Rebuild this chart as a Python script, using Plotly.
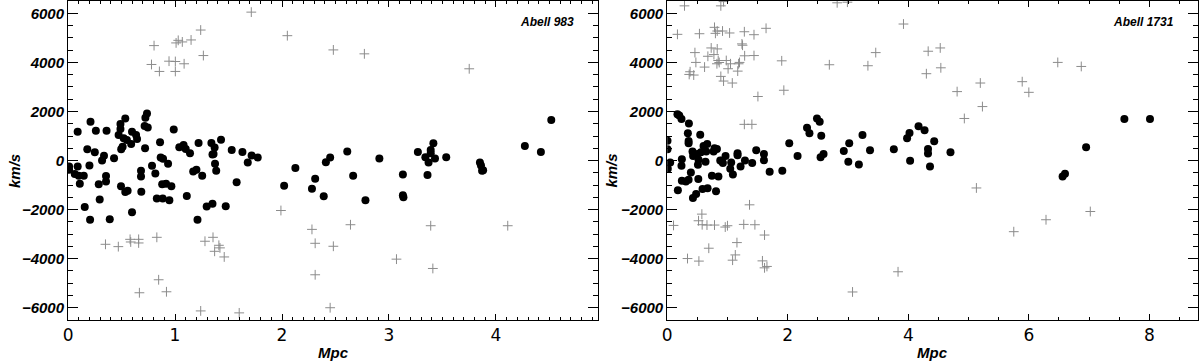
import plotly.graph_objects as go
from plotly.subplots import make_subplots

# Abell 983 - members (filled) and interlopers (crosses)
a983_mem_x = [0.01, 0.01, 0.09, 0.21, 0.26, 0.36, 0.18, 0.25, 0.09, 0.20, 0.063, 0.10, 0.147, 0.11,
              0.156, 0.206, 0.39, 0.296, 0.287, 0.355, 0.355, 0.318, 0.336, 0.43, 0.49, 0.49, 0.535,
              0.473, 0.52, 0.55, 0.598, 0.636, 0.645, 0.59, 0.51, 0.497, 0.723, 0.738, 0.716, 0.745,
              0.72, 0.988, 0.86, 0.866, 0.888, 0.935, 0.785, 0.816, 0.682, 0.682, 0.685, 0.495, 0.535,
              0.557, 0.598, 0.88, 0.916, 0.966, 0.83, 0.885, 0.947, 1.11, 1.04, 1.08, 1.1, 1.14, 1.22,
              1.17, 1.2, 1.254, 1.21, 1.34, 1.43, 1.37, 1.35, 1.36, 1.374, 1.385, 1.53, 1.63, 1.716,
              1.773, 1.68, 1.576, 1.296, 1.35, 1.474, 2.02, 2.125, 2.31, 2.28, 2.39, 2.41, 2.45, 2.61,
              2.665, 2.78, 2.91, 3.13, 3.135, 3.13, 3.27, 3.34, 3.39, 3.39, 3.415, 3.37, 3.43, 3.36,
              3.535, 3.85, 3.86, 3.87, 3.88, 4.27, 4.42, 4.517]
a983_mem_v = [-380, -243, 1175, 1580, 1215, 1215, 460, 340, -243, -200, -550, -620, -620, -945,
              -1890, -2415, -2390, -1590, -970, -635, -850, 0, 200, 97, 1485, 1285, 1715,
              1040, 905, 840, 1175, 1040, 880, 676, 567, 460, 1740, 1920, 1405, 1350,
              500, 1270, 745, 122, 70, -134, -215, -525, -417, -648, -1268, -1053, -1280,
              -1227, -2105, -970, -943, -1053, -1551, -1551, -1620, -1442, 543, 636, 474, 300, 717,
              -445, -376, -620, -2415, 717, 850, 527, 243, 270, -134, -417, 433, 352, 203,
              122, -80, -890, -1875, -1766, -1863, -1025, -308, -741, -1146, -1458, -65, 122, 365,
              -620, -1620, 81, -1418, -1500, -567, 352, 138, 300, 433, 705, -80, 81, -592,
              138, -80, -200, -417, -400, 595, 352, 1650]
a983_int_x = [0.804, 0.78, 0.854, 0.944, 1.003, 1.003, 1.01, 1.03, 1.068, 1.085, 1.15, 1.24, 1.265,
              1.713, 2.05, 2.48, 2.77, 3.75, 0.35, 0.47, 0.58, 0.586, 0.66, 0.66, 0.83, 1.28, 1.355,
              1.41, 1.42, 1.37, 1.46, 0.847, 0.667, 0.92, 1.24, 1.6, 1.99, 2.28, 2.64, 3.39, 4.11,
              2.31, 2.48, 2.31, 3.07, 3.41, 2.45]
a983_int_v = [4685, 3916, 3632, 4050, 4037, 3632, 4795, 4900, 4835, 3945, 4916, 5320, 4280,
              6050, 5090, 4510, 4350, 3740, -3415, -3510, -3212, -3320, -3212, -3360, -3130, -3290, -3130,
              -3455, -3560, -3700, -3930, -4860, -5390, -5350, -6130, -6210, -2037, -2807, -2617, -2657, -2657,
              -3374, -3495, -4657, -4020, -4400, -6000]

# Abell 1731
a1731_mem_x = [0.005, 0.005, 0.05, 0.01, 0.17, 0.2, 0.237, 0.36, 0.343, 0.355, 0.355, 0.548, 0.603,
               0.664, 0.647, 0.56, 0.77, 0.785, 0.825, 0.968, 0.896, 0.924, 1.062, 1.046, 1.09, 1.167,
               1.167, 1.29, 1.217, 1.41, 1.477, 1.605, 1.605, 1.70, 1.91, 2.025, 0.243, 0.237, 0.43,
               0.52, 0.51, 0.636, 0.393, 0.243, 0.31, 0.355, 0.516, 0.742, 0.85, 0.177, 0.586, 0.67,
               0.81, 0.427, 0.48, 0.88, 0.42, 0.50,
               2.163, 2.32, 2.36, 2.485, 2.53, 2.556, 2.594, 2.545, 2.93, 3.02, 3.24, 3.365, 3.005,
               3.18, 3.76, 3.98, 4.02, 4.17, 4.27, 4.43, 4.327, 4.327, 4.03, 4.36, 4.70,
               7.585, 8.01, 6.95, 6.56, 6.6]
a1731_mem_v = [810, 460, -80, -336, 1890, 1840, 1690, 1513, 1110, 798, 705, 1053, 595,
               676, 365, 340, 365, 500, 474, 190, -12, -105, -80, -336, -567, 300,
               219, 0, -243, -105, 421, 271, 16, -458, -417, 705, 57, -215, 190,
               28, -174, -53, -486, -822, -850, -782, -753, -620, -648, -1215, -1160, -1134,
               -1255, -1523, -1361, 0, 365, 270,
               190, 1336, 1110, 1717, 1580, 1013, 271, 138, 393, 705, 1040, 421, -53,
               -162, 460, 907, 1120, 1393, 1230, 785, 474, 283, -12, -243, 340,
               1690, 1690, 543, -648, -540]
a1731_int_x = [0.287, 0.17, 0.535, 0.46, 0.476, 0.38, 0.365, 0.44, 0.62, 0.675, 0.73, 0.775, 0.785,
               0.80, 0.83, 0.83, 0.825, 0.846, 0.863, 0.89, 0.935, 0.918, 0.89, 0.935, 0.98, 1.01,
               1.035, 1.05, 1.08, 1.17, 1.185, 1.2, 1.24, 1.25, 1.28, 1.285, 1.44, 1.44, 1.505, 1.64,
               1.28, 1.405, 1.9, 1.935, 2.69, 2.82, 2.99, 3.33, 3.46, 3.92, 4.33, 4.53, 4.3, 4.54,
               4.81, 5.195, 5.23, 4.93, 5.89, 6.0, 6.48, 6.87,
               5.13, 5.75, 6.285, 7.02, 3.83,
               0.105, 0.337, 0.526, 0.52, 0.575, 0.58, 0.66, 0.69, 0.785, 0.963, 1.0, 1.157, 1.13,
               1.085, 1.27, 1.366, 1.455, 1.615, 1.58, 1.615, 1.655, 3.075]
a1731_int_v = [6306, 5145, 5170, 4400, 4000, 3620, 3510, 3485, 3810, 4250, 4590, 4320, 5430,
               5185, 5280, 4550, 3945, 4078, 3997, 6306, 6480, 5280, 3430, 3240, 4078, 3742,
               5200, 3945, 3160, 3645, 3945, 4000, 4755, 4700, 5250, 4270, 5130, 4280, 2610, 5390,
               1475, 1475, 4065, 2865, 3905, 6430, 6455, 3865, 4400, 5565, 4455, 4590, 3540, 3780,
               2810, 3160, 2200, 1715, 3215, 2780, 4000, 3835,
               -1118, -2900, -2414, -2078, -4535,
               -2645, -3995, -4100, -2455, -2185, -2617, -2630, -3575, -2630, -2712, -2657, -3345, -3847,
               -4062, -2604, -1805, -2617, -3037, -4090, -4374, -4317, -5358]

names = ["Abell 983", "Abell 1731"]

fig = make_subplots(rows=1, cols=2)

panels = [(a983_int_x, a983_int_v, a983_mem_x, a983_mem_v),
          (a1731_int_x, a1731_int_v, a1731_mem_x, a1731_mem_v)]
for i, (ix, iv, mx, mv) in enumerate(panels):
    fig.add_trace(go.Scatter(x=ix, y=iv, mode="markers",
                             marker=dict(symbol="cross-thin", size=7,
                                         line=dict(color="#8c8c8c", width=1))),
                  row=1, col=i + 1)
    fig.add_trace(go.Scatter(x=mx, y=mv, mode="markers",
                             marker=dict(symbol="circle", size=8, color="black")),
                  row=1, col=i + 1)

lab = dict(family="Liberation Sans", size=15, color="black", weight="bold", style="italic")
xlab = dict(family="DejaVu Sans", size=17, color="black")

common_x = dict(showline=True, linecolor="black", linewidth=1, mirror="ticks", automargin=False,
                ticks="inside", ticklen=6, tickcolor="black", showgrid=False, zeroline=False,
                tickfont=xlab)
common_y = dict(showline=True, linecolor="black", linewidth=1, mirror="ticks", automargin=False,
                ticks="inside", ticklen=10, tickcolor="black", showgrid=False, zeroline=False,
                range=[-6500, 6500], tick0=0, dtick=2000, tickfont=lab,
                minor=dict(ticks="inside", ticklen=5, dtick=500, tickcolor="black", showgrid=False))

fig.update_layout(
    width=1200, height=363, showlegend=False,
    plot_bgcolor="white", paper_bgcolor="white",
    margin=dict(l=0, r=0, t=0, b=0, autoexpand=False),
    xaxis=dict(common_x, domain=[0.0567, 0.498], range=[0, 4.95], tick0=0, dtick=1,
               minor=dict(ticks="inside", ticklen=3, dtick=0.1, tickcolor="black", showgrid=False)),
    xaxis2=dict(common_x, domain=[0.556, 0.998], range=[0, 8.8], tick0=0, dtick=2,
                minor=dict(ticks="inside", ticklen=3, dtick=0.5, tickcolor="black", showgrid=False)),
    yaxis=dict(common_y, domain=[0.1185, 0.997]),
    yaxis2=dict(common_y, domain=[0.1185, 0.997]),
)

# axis titles and cluster names as annotations (fixed positions)
for ref, name, xc, ylx in [("x domain", names[0], 0.2775, 0.012), ("x2 domain", names[1], 0.777, 0.51)]:
    fig.add_annotation(xref=ref, yref="paper", x=0.96, y=0.94, text=name, showarrow=False,
                       xanchor="right", yanchor="middle",
                       font=dict(family="Liberation Sans", size=12, color="black",
                                 weight="bold", style="italic"))
    fig.add_annotation(xref="paper", yref="paper", x=xc, y=0.028, text="Mpc", showarrow=False,
                       xanchor="center", yanchor="middle", font=lab)
    fig.add_annotation(xref="paper", yref="paper", x=ylx, y=0.53, text="km/s", showarrow=False,
                       textangle=-90, xanchor="center", yanchor="middle", font=lab)

fig.write_html("out.html", config={"displayModeBar": False},
               post_script="document.body.style.margin='0';")
